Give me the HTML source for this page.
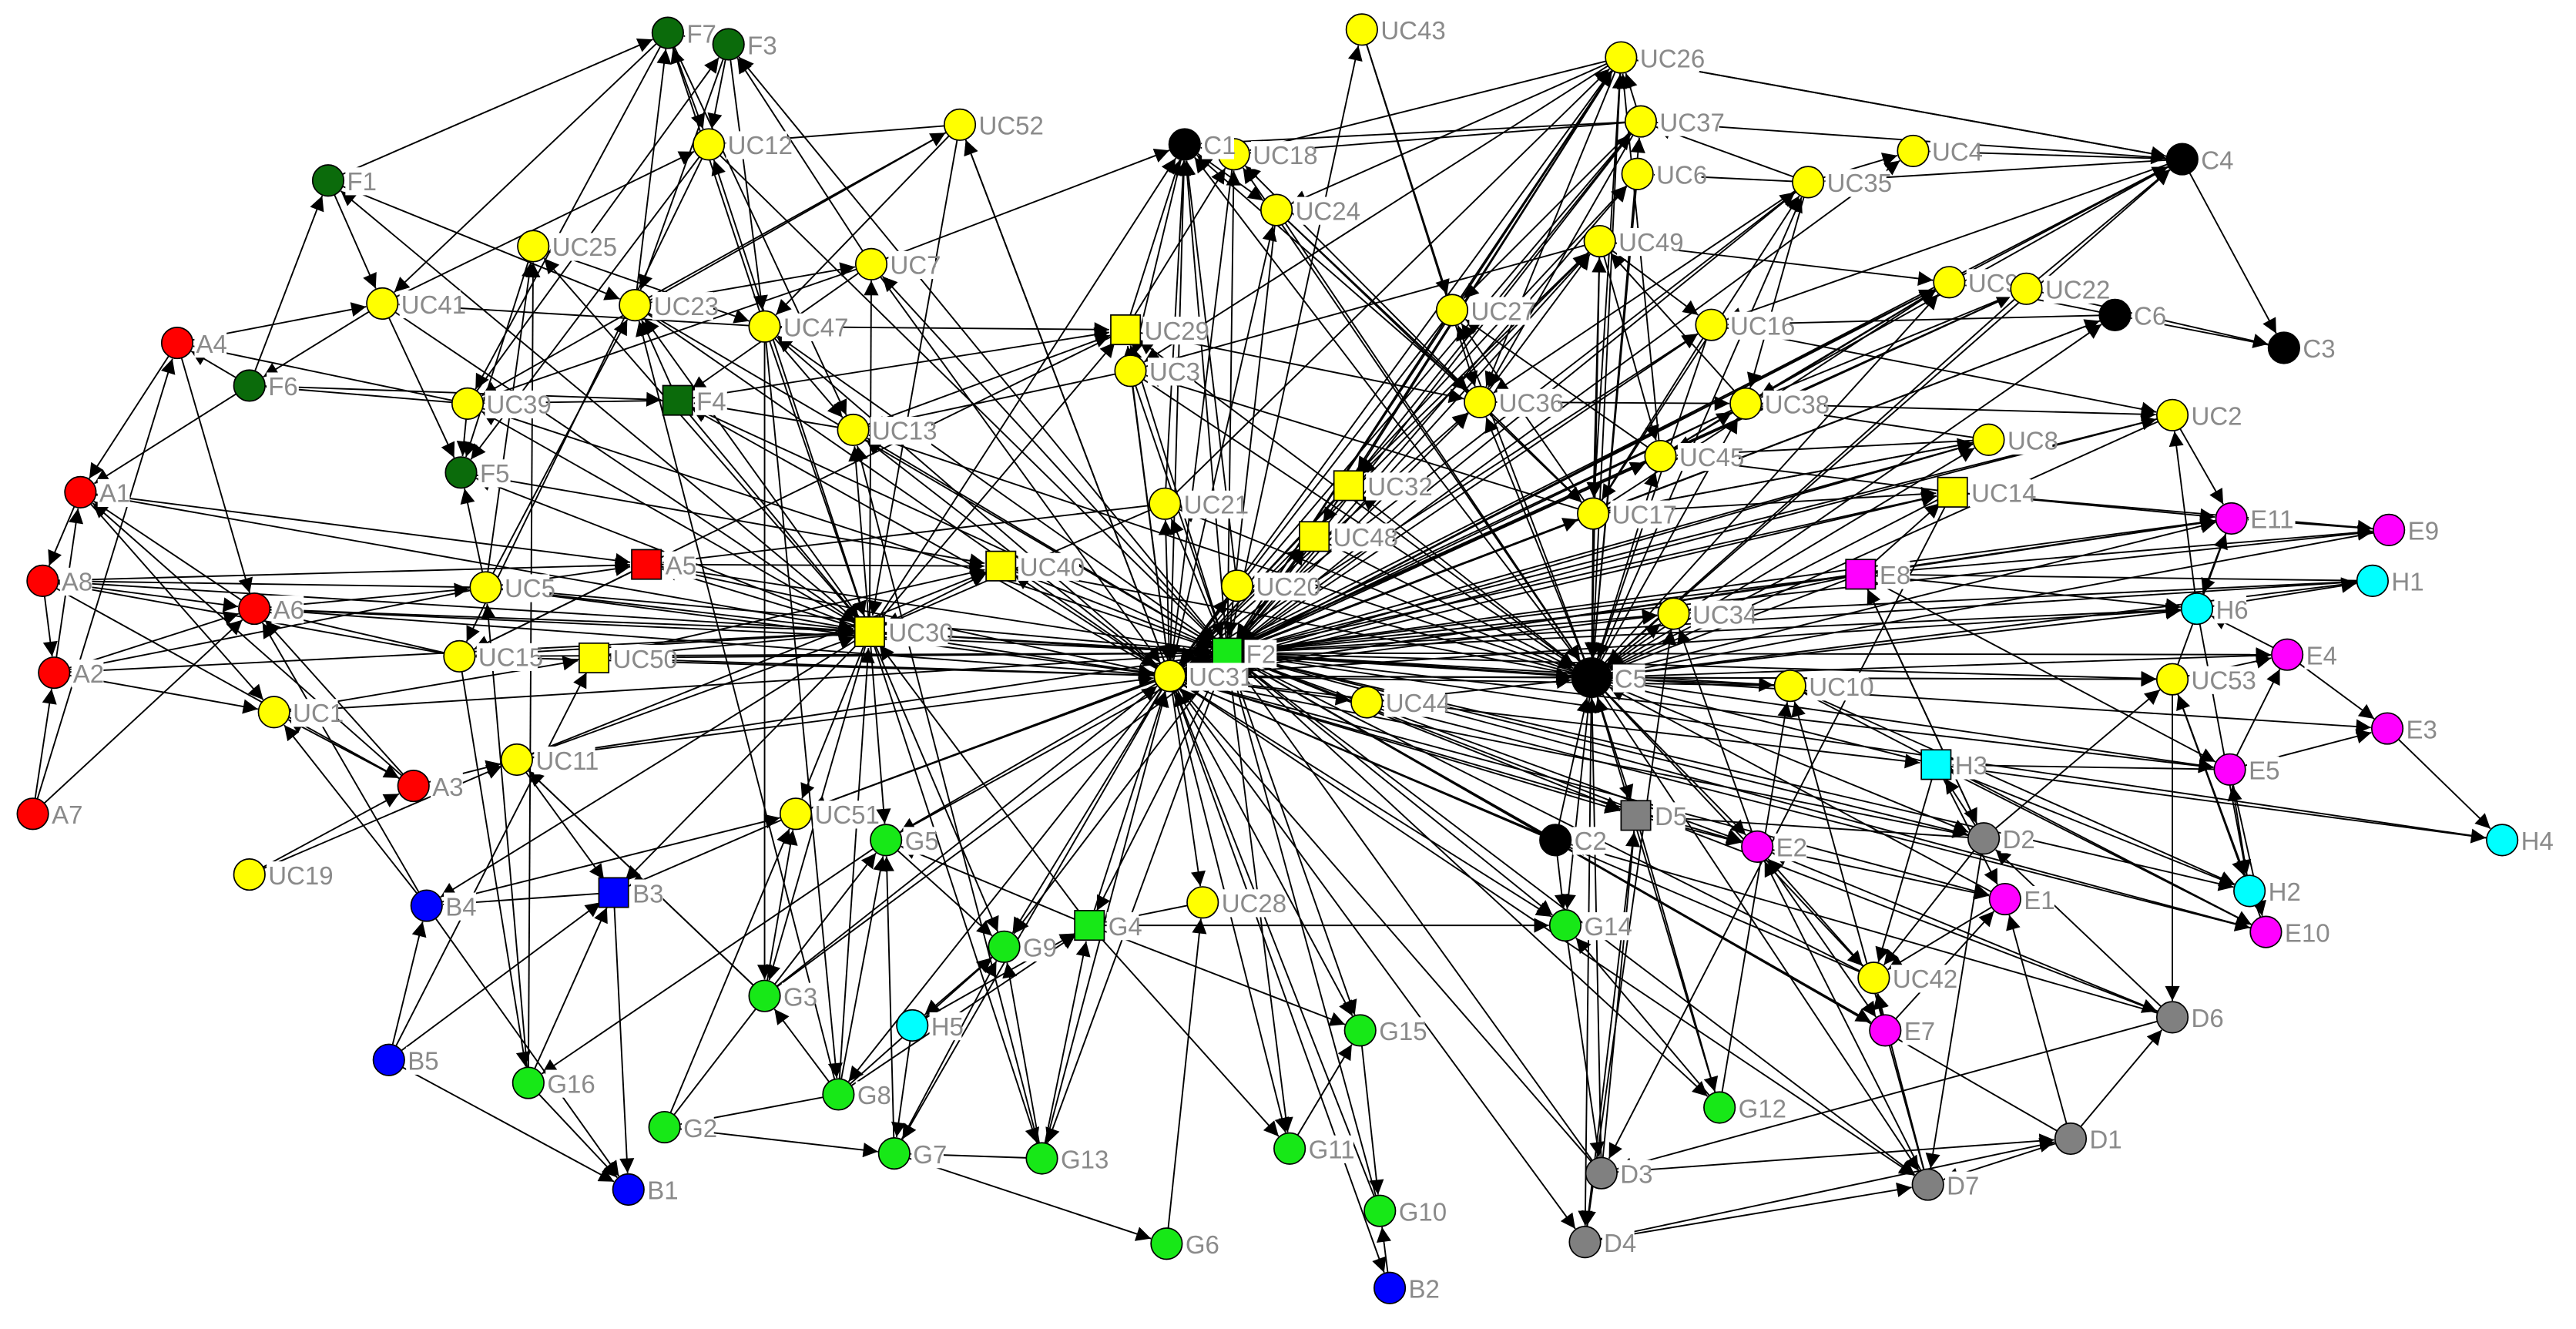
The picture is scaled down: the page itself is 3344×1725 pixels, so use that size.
<!DOCTYPE html>
<html><head><meta charset="utf-8">
<style>
html,body{margin:0;padding:0;background:#fff;}
svg{display:block;}
text{font-family:"Liberation Sans",sans-serif;font-size:15.5px;fill:#8a8a8a;}
</style></head>
<body>
<svg id="s" width="3344" height="1725" viewBox="0 0 1570 810" preserveAspectRatio="none" xmlns="http://www.w3.org/2000/svg">
<defs>
<marker id="ar" viewBox="0 0 10 10" refX="10" refY="5" markerWidth="11" markerHeight="9" markerUnits="userSpaceOnUse" orient="auto">
<path d="M0,0 L10,5 L0,10 z" fill="#000"/>
</marker>
</defs>
<g id="edges"></g>
<g id="nodes"></g>
</svg>
<script>
var Y='#ffff00',R='#ff0000',DG='#0b6b0b',G='#17e817',B='#0000ff',C='#00ffff',M='#ff00ff',GR='#808080',K='#000000';
var N={
F7:[407,20,DG],F3:[444,27,DG],F1:[200,110,DG],UC12:[432,88,Y],UC52:[585,76,Y],UC43:[830,18,Y],
UC26:[988,35,Y],UC37:[1000,74,Y],UC6:[998,106,Y],UC4:[1166,92,Y],C4:[1330,97,K],UC18:[752,94,Y],C1:[722,88,K],
UC35:[1102,111,Y],UC24:[778,128,Y],UC25:[325,150,Y],UC7:[531,161,Y],UC41:[233,185,Y],UC23:[387,186,Y],UC47:[466,199,Y],
UC49:[975,147,Y],UC9:[1188,172,Y],UC22:[1235,176,Y],C6:[1289,192,K],C3:[1392,212,K],UC27:[885,189,Y],UC16:[1043,198,Y],
F6:[152,235,DG],A4:[108,209,R],UC29:[686,201,Y,1],UC3:[689,226,Y],F4:[413,244,DG,1],UC39:[285,246,Y],UC36:[902,245,Y],
UC38:[1064,246,Y],UC13:[520,262,Y],UC2:[1324,253,Y],F5:[281,288,DG],UC45:[1012,278,Y],UC8:[1212,268,Y],A1:[49,300,R],
UC32:[822,296,Y,1],UC14:[1190,300,Y,1],UC21:[710,307,Y],UC48:[801,327,Y,1],UC17:[971,313,Y],E11:[1360,316,M],E9:[1456,323,M],
A5:[394,344,R,1],UC40:[610,345,Y,1],A8:[26,354,R],UC5:[296,358,Y],A6:[155,371,R],UC20:[754,357,Y],E8:[1134,350,M,1],H1:[1446,354,C],
UC30:[530,385,Y,1],H6:[1339,371,C],UC34:[1020,374,Y],F2:[748,398,G,1],UC15:[280,400,Y],UC50:[362,401,Y,1],E4:[1394,399,M],
A2:[33,410,R],UC31:[713,412,Y],C5:[970,413,K,0,12],UC10:[1091,418,Y],UC53:[1324,414,Y],UC44:[833,428,Y],UC1:[167,434,Y],
E3:[1455,444,M],UC11:[315,463,Y],H3:[1180,466,C,1],E5:[1359,469,M],A3:[252,479,R],A7:[20,496,R],UC51:[485,496,Y],
D5:[997,497,GR,1],C2:[948,512,K],E2:[1071,516,M],D2:[1209,511,GR],H4:[1525,512,C],G5:[540,512,G],UC19:[152,533,Y],
B3:[374,544,B,1],B4:[260,552,B],E1:[1222,548,M],H2:[1371,543,C],G4:[664,564,G,1],UC28:[733,550,Y],G14:[954,564,G],
E10:[1381,568,M],G9:[612,577,G],UC42:[1142,596,Y],G3:[466,607,G],H5:[556,625,C],E7:[1149,628,M],G15:[829,628,G],
D6:[1324,620,GR],B5:[237,646,B],G16:[322,660,G],G8:[511,667,G],G12:[1048,675,G],G2:[405,687,G],D1:[1262,694,GR],
G7:[545,703,G],G13:[635,706,G],G11:[786,700,G],D3:[976,715,GR],D7:[1175,722,GR],B1:[383,725,B],G10:[841,738,G],
D4:[966,757,GR],G6:[711,758,G],B2:[847,785,B]
};
var H={
UC31:"C1 UC18 UC24 UC29 UC3 UC21 UC48 UC32 UC20 UC40 UC30 A5 UC13 UC7 UC52 UC47 UC23 F4 UC5 A6 UC15 UC50 UC11 UC51 G5 G4 UC28 G9 G3 G8 G7 G13 G11 G15 G10 B2 G14 D3 D7 D4 C2 D5 E2 UC42 C5 UC34 UC17 UC45 UC36 UC27 UC49 UC26 UC37 UC6 UC16 UC38 UC9 UC22 C6 UC8 UC14 E8 H6 UC53 UC10 UC44 H3 D2 E1 UC2 E11 UC35",
F2:"UC26 UC37 UC6 UC49 UC27 UC36 UC16 UC38 UC45 UC17 UC32 UC48 UC21 UC3 UC29 C1 UC24 UC18 UC13 UC30 UC40 UC51 G5 G4 G15 G10 G11 G14 C2 D5 UC34 UC10 UC53 H6 E8 UC14 UC8 UC2 C6 UC22 UC9 C4 UC4 UC35 E11 E9 H1 E4 E3 H4 E5 H2 E10 D2 D6 D1 D7 E7 UC42 E2 G12 D3 UC43 UC7 UC12 F3 UC5 A5 UC50 UC15 UC11 A6 UC1 UC23 UC47 F4 UC39 G9 G13 G3",
C5:"UC26 UC37 UC6 UC49 UC35 UC16 UC38 UC45 UC17 UC36 UC27 UC24 UC18 C1 UC3 UC29 UC32 UC48 UC20 UC21 UC30 UC13 UC40 UC44 UC34 UC10 E8 H6 UC53 H3 D2 D5 C2 E2 G14 D3 D4 D7 E1 E5 UC42 UC14 UC8 UC9 UC22 C4 C6 UC2 E11 H1 E9 E4",
UC30:"A5 UC5 A6 A8 A1 UC15 UC50 UC11 UC13 UC23 F4 UC39 F5 UC41 UC12 UC25 UC47 UC7 F1 UC52 G5 G3 G8 G13 G9 G4 UC51 UC40 UC21 UC29 C1 A2 B3 B4",
F7:"F1 UC12 UC41 UC23 UC39 UC13 UC47",F3:"UC12 UC23 UC7 UC47 F7 UC39",
UC26:"UC18 UC24 UC27 UC36 UC3 UC21 UC32 UC48 UC45 UC17 C4 UC37",UC37:"UC18 C1 UC35 UC36 UC27 UC32",UC49:"UC16 UC9 UC38 UC17 UC45 UC36 UC32 UC3",
UC17:"UC36 UC27 UC3 UC24 UC9 UC35 UC16 UC8 UC14",UC36:"UC24 UC18 C1 UC29 UC38",UC45:"UC38 UC22 UC9 UC27"
};
var E="A1-A4 A1-A8 A8-A2 A2-A7 A7-A6 A4-A6 A1-A6 A8-A6 A2-A6 A6-A3 A3-A1 A2-A1 A4-F6 A8-A5 A1-A5 A2-UC5 A3-UC1 A3-UC11 UC1-A2 UC19-A3 UC19-UC11 A5-UC5 A5-UC15 A4-UC41 A4-UC39 A7-A4 A8-A3 "+
"B4-B5 B4-B1 B3-B1 B4-B3 B5-B1 B4-UC51 B3-UC51 B4-A6 B5-UC50 B1-G16 B4-UC1 B5-B3 "+
"G16-UC15 G16-UC5 G16-B3 G16-G5 G2-G7 G2-G5 G2-G8 G2-UC51 G3-UC11 G3-G8 G3-UC51 G8-G5 G8-UC47 G8-G9 G7-G9 G7-G13 G7-G6 G7-G5 G7-H5 G13-G4 G13-G9 G9-G5 G4-G5 G4-G14 G4-UC28 G4-G11 G4-G15 G4-G8 G6-UC28 G15-G10 G10-B2 G11-G15 H5-G4 H5-G9 G12-G14 G12-C5 G12-D5 G12-UC10 G14-D3 G14-C2 G13-UC13 G8-UC23 G3-UC47 G16-UC25 "+
"D3-D1 D3-D6 D4-D1 D4-D7 D7-D1 D1-D6 D7-UC10 D7-D2 D6-E2 D6-D2 D6-UC53 D2-UC42 D2-UC53 D2-E8 D1-E1 D3-D5 D4-D5 D7-E2 D5-E2 D5-D2 D6-C2 D4-UC34 D3-UC14 "+
"E8-E11 E8-E9 E8-H1 E8-H6 E8-E5 E8-D2 E8-UC34 E8-UC14 E11-E9 E11-H6 H6-H1 H6-E4 H6-H2 E4-E3 E4-E5 E3-H4 E5-E3 E5-H2 E5-E10 H3-H4 H3-E5 H3-E10 H3-H2 H3-D2 H3-E1 H3-UC42 E1-E7 E1-UC42 E2-E7 E2-UC42 E2-E1 E7-UC42 UC42-D7 UC53-E4 UC53-H2 UC53-E10 UC53-E11 UC2-E11 UC2-H6 UC14-E9 UC14-E11 UC34-E2 UC10-E10 UC10-H2 UC34-H1 UC44-E10 "+
"C4-UC26 C4-UC37 C4-UC35 C4-UC16 C4-UC9 C4-C3 C4-UC4 C4-UC22 C4-UC38 C3-C6 C3-UC22 C6-UC9 C6-UC16 UC4-UC35 UC43-UC27 UC43-UC36 UC6-UC35 UC35-UC38 UC35-UC36 UC9-UC38 UC22-UC38 UC8-UC38 UC2-UC38 UC14-UC45 UC8-UC45 UC2-UC16 UC8-UC17 "+
"UC52-UC12 UC52-UC23 UC52-UC39 UC52-UC47 UC7-UC23 UC7-UC39 UC7-F4 UC12-UC41 UC12-F5 UC25-F5 UC25-UC5 UC41-F5 UC41-F6 F1-F6 F1-UC41 F6-A1 F6-UC39 F6-F4 F4-UC39 F4-UC13 F4-UC29 UC39-F5 F5-UC5 UC47-UC41 UC47-UC29 UC13-UC3 UC13-UC29 UC1-UC50 UC1-A1 UC15-A6 UC15-A8 UC5-A6 UC5-A8 UC11-B3 UC11-G3 UC29-C1 UC29-UC18 UC24-C1 UC18-C1 UC21-C1 UC3-C1 UC20-C1 UC7-C1 UC52-UC31 F1-UC23 UC25-UC47 UC23-UC5 UC12-UC15 UC47-UC13 UC23-F4 F5-UC40 A5-UC40 A5-UC21 UC50-UC40 UC11-UC40 UC15-UC29";
var eg=document.getElementById('edges'),ng=document.getElementById('nodes'),ns='http://www.w3.org/2000/svg';
var list=[];
for(var h in H){H[h].split(' ').forEach(function(t){if(t&&N[t])list.push([h,t]);});}
E.split(' ').forEach(function(p){if(!p)return;var q=p.split('-');if(N[q[0]]&&N[q[1]])list.push(q);});
list.forEach(function(e,i){
 var a=N[e[0]],b=N[e[1]];
 if(i%3==1){var t=a;a=b;b=t;}
 var dx=b[0]-a[0],dy=b[1]-a[1],d=Math.sqrt(dx*dx+dy*dy);if(d<1)return;
 var rb=(b[4]||9.5)+0.5;
 var x2=b[0]-dx/d*rb,y2=b[1]-dy/d*rb;
 var l=document.createElementNS(ns,'line');
 l.setAttribute('x1',a[0]);l.setAttribute('y1',a[1]);l.setAttribute('x2',x2.toFixed(1));l.setAttribute('y2',y2.toFixed(1));
 l.setAttribute('stroke','#000');l.setAttribute('stroke-width','0.9');l.setAttribute('marker-end','url(#ar)');
 eg.appendChild(l);
});
for(var k in N){
 var n=N[k],r=n[4]||9.5,el;
 if(n[3]){el=document.createElementNS(ns,'rect');el.setAttribute('x',n[0]-9);el.setAttribute('y',n[1]-9);el.setAttribute('width',18);el.setAttribute('height',18);}
 else{el=document.createElementNS(ns,'circle');el.setAttribute('cx',n[0]);el.setAttribute('cy',n[1]);el.setAttribute('r',r);}
 el.setAttribute('fill',n[2]);el.setAttribute('stroke','#000');el.setAttribute('stroke-width','0.8');
 ng.appendChild(el);
 var tx=n[0]+r+2,ty=n[1]+6;
 var bg=document.createElementNS(ns,'rect');
 bg.setAttribute('x',tx-1);bg.setAttribute('y',ty-14);bg.setAttribute('width',k.length*8.8+2);bg.setAttribute('height',17);bg.setAttribute('fill','#fff');
 ng.appendChild(bg);
 var t=document.createElementNS(ns,'text');t.setAttribute('x',tx);t.setAttribute('y',ty);t.textContent=k;
 ng.appendChild(t);
}
</script>
</body></html>
